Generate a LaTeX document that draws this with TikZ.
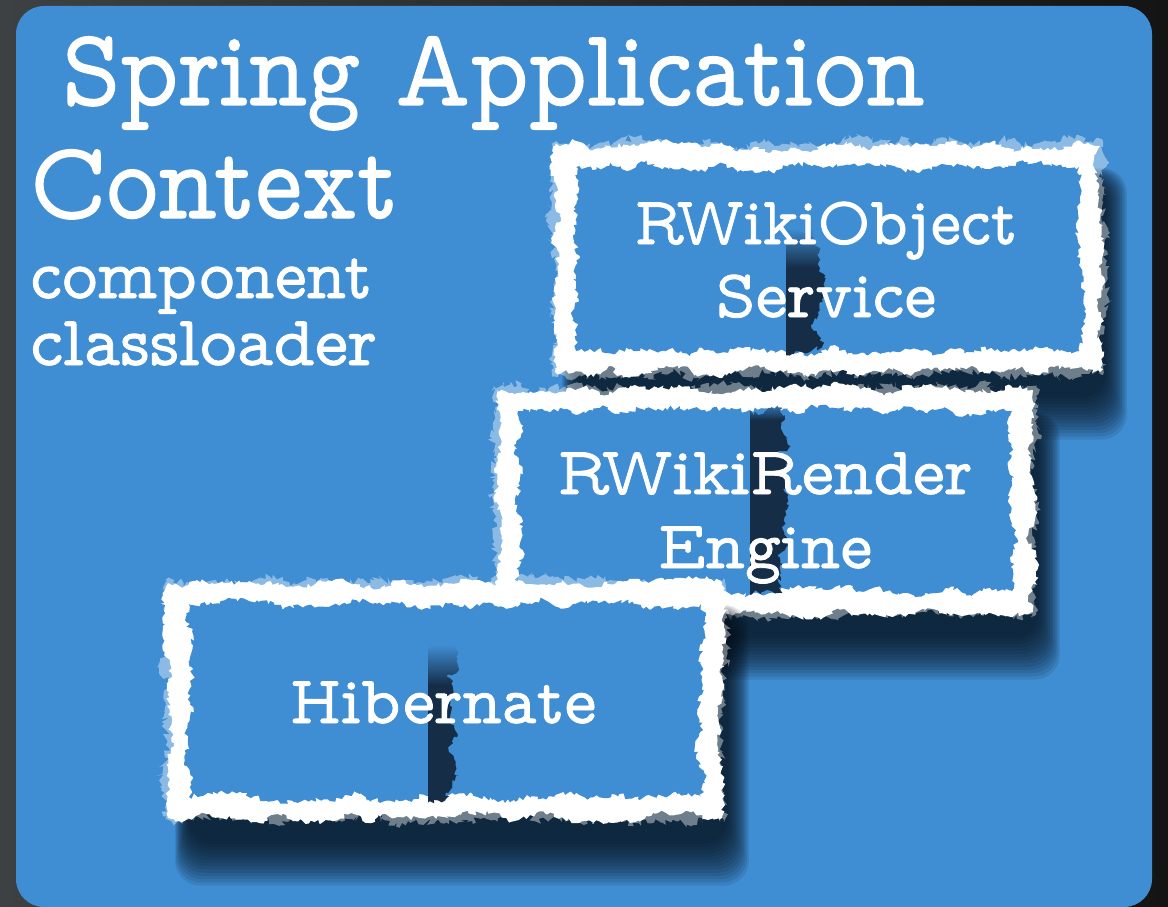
\documentclass[tikz,border=0pt]{standalone}
\usepackage{fontspec}
\newfontfamily\tw[FakeBold=1.2]{lmmonoprop10-regular.otf}
\usetikzlibrary{decorations.pathmorphing}
\definecolor{bggray}{HTML}{3D4143}
\definecolor{bgdark}{HTML}{141414}
\definecolor{appblue}{HTML}{3F8DD2}
\definecolor{shadowc}{HTML}{06101A}
\definecolor{seamc}{HTML}{152D47}
\tikzset{
  bigtitle/.style={text=white, font=\tw\fontsize{110}{110}\selectfont, inner sep=0pt, anchor=base west},
  smalltitle/.style={text=white, font=\tw\fontsize{71}{71}\selectfont, inner sep=0pt, anchor=base west},
  boxlabel/.style={text=white, font=\tw\fontsize{68}{68}\selectfont, inner sep=0pt, anchor=base},
  fine/.style={decoration={random steps, segment length=3pt, amplitude=2.5pt}},
  coarse/.style={decoration={random steps, segment length=18pt, amplitude=6pt}},
  fuzz/.style={decoration={random steps, segment length=2.5pt, amplitude=4pt}},
  seamedge/.style={decoration={random steps, segment length=9pt, amplitude=8pt}},
}
% #1,#2 outer top-left; #3,#4 outer bottom-right; #5 seam x; #6 seam top; #7 seam width; #8 fade length
\newcommand\tornbox[8]{%
  \foreach \k in {0,...,13}{
    \fill[shadowc, opacity=0.1, rounded corners=25]
      ({#1+20-1*\k},{#2+35-1*\k}) rectangle ({#3+6+1.6*\k},{#4+26+3.2*\k});
  }
  \fill[white, opacity=0.4] decorate[fuzz]{decorate[coarse]{({#1-3},{#2-3}) rectangle ({#3+3},{#4+3})}};
  \fill[white] decorate[fine]{decorate[coarse]{(#1,#2) rectangle (#3,#4)}};
  \fill[appblue] decorate[fine]{decorate[coarse]{({#1+21},{#2+21}) rectangle ({#3-21},{#4-21})}};
  \begin{scope}
    \clip decorate[fine]{decorate[coarse]{({#1+21},{#2+21}) rectangle ({#3-21},{#4-21})}};
    \clip (#5,#6) rectangle ({#5+80},{#4});
    \clip decorate[fine]{decorate[seamedge]{({#5-20},{#6}) rectangle ({#5+#7},{#4})}};
    \shade[top color=appblue, bottom color=seamc] ({#5-30},{#6}) rectangle ({#5+#7+20},{#6+#8});
    \fill[seamc] ({#5-30},{#6+#8-0.5}) rectangle ({#5+#7+20},{#4});
  \end{scope}
}
\begin{document}
\begin{tikzpicture}[x=1pt,y=-1pt]
\pgfmathsetseed{11}
\useasboundingbox (0,0) rectangle (1168,907);
\shade[left color=bggray, right color=bgdark] (0,0) rectangle (1168,907);
\fill[appblue, rounded corners=28] (16,6) rectangle (1152,907);

\node[bigtitle] (t1) at (62,105) {\scalebox{0.91}[1]{Spring Application}};
\node[bigtitle] (t2) at (30,218) {\scalebox{0.91}[1]{Context}};
\node[smalltitle] (t3) at (30,298) {\scalebox{0.96}[1]{component}};
\node[smalltitle] (t4) at (30,365) {classloader};

\tornbox{555}{146}{1100}{372}{786}{228}{32}{40}
\node[boxlabel] (b1a) at (826,244) {\scalebox{0.95}[1]{RWikiObject}};
\node[boxlabel] (b1b) at (826,317) {Service};

\tornbox{497}{390}{1033}{612}{750}{400}{34}{20}
\node[boxlabel] (b2a) at (765,494) {RWikiRender};
\node[boxlabel] (b2b) at (765,568) {Engine};

\tornbox{168}{583}{722}{818}{428}{645}{24}{40}
\node[boxlabel] (b3) at (443,723) {Hibernate};
\end{tikzpicture}
\end{document}
